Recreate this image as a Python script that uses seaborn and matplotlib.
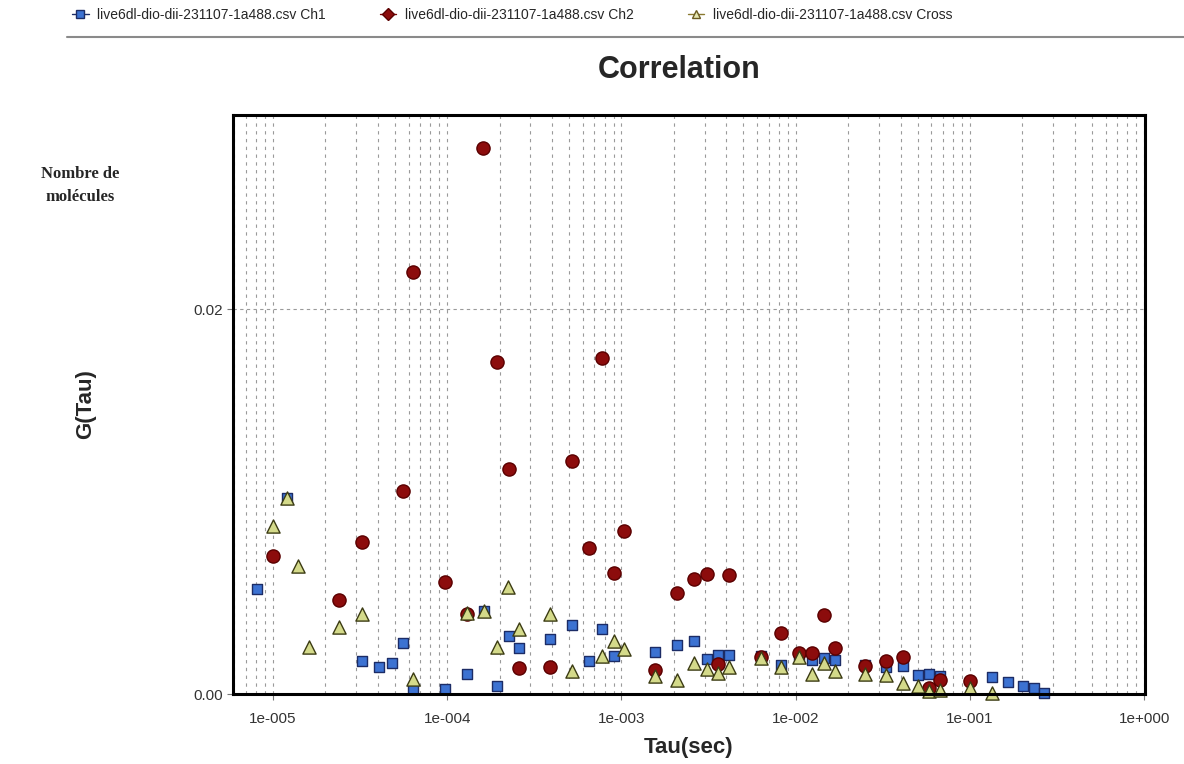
import numpy as np
import pandas as pd
import matplotlib
matplotlib.use("Agg")
import matplotlib.pyplot as plt
import seaborn as sns
from matplotlib.lines import Line2D
from matplotlib.ticker import FixedLocator, FuncFormatter, NullFormatter

# values
tau_ch1 = [8.1e-6, 1.2e-5, 3.23e-5, 4.05e-5, 4.79e-5, 5.59e-5, 6.38e-5, 9.7e-5, 1.3e-4, 1.62e-4,
           1.93e-4, 2.25e-4, 2.58e-4, 3.87e-4, 5.21e-4, 6.49e-4, 7.71e-4, 9.03e-4, 1.55e-3, 2.09e-3,
           2.62e-3, 3.09e-3, 3.6e-3, 4.14e-3, 6.29e-3, 8.2e-3, 1.04e-2, 1.24e-2, 1.45e-2, 1.68e-2,
           2.49e-2, 3.29e-2, 4.14e-2, 5.0e-2, 5.83e-2, 6.72e-2, 0.133, 0.165, 0.201, 0.234, 0.267]
g_ch1 = [0.00545, 0.0102, 0.00171, 0.00139, 0.00163, 0.00266, 0.00024, 0.00024, 0.00104, 0.00431,
         0.00043, 0.00303, 0.00239, 0.00286, 0.0036, 0.0017, 0.00336, 0.00199, 0.00217, 0.00256,
         0.00274, 0.0018, 0.00201, 0.00203, 0.00197, 0.00151, 0.00203, 0.00177, 0.00185, 0.00177,
         0.00151, 0.0014, 0.00145, 0.00099, 0.00104, 0.00094, 0.00087, 0.00064, 0.00042, 0.0003, 0.00004]

tau_ch2 = [1.0e-5, 2.4e-5, 3.23e-5, 5.59e-5, 6.38e-5, 9.7e-5, 1.3e-4, 1.61e-4, 1.94e-4, 2.25e-4,
           2.58e-4, 3.87e-4, 5.21e-4, 6.49e-4, 7.71e-4, 9.03e-4, 1.03e-3, 1.55e-3, 2.09e-3, 2.62e-3,
           3.09e-3, 3.6e-3, 4.14e-3, 6.29e-3, 8.2e-3, 1.04e-2, 1.24e-2, 1.45e-2, 1.68e-2, 2.49e-2,
           3.29e-2, 4.14e-2, 5.83e-2, 6.72e-2, 0.1004]
g_ch2 = [0.00717, 0.00488, 0.00791, 0.01053, 0.02192, 0.00583, 0.00416, 0.02836, 0.01725, 0.01172,
         0.00134, 0.00139, 0.01212, 0.0076, 0.01745, 0.0063, 0.00847, 0.00125, 0.00526, 0.00596,
         0.00623, 0.00154, 0.00617, 0.00194, 0.00315, 0.00215, 0.00211, 0.0041, 0.00241, 0.00145,
         0.00173, 0.00194, 0.0003, 0.00073, 0.00068]

tau_cross = [1.0e-5, 1.2e-5, 1.39e-5, 1.6e-5, 2.4e-5, 3.23e-5, 6.38e-5, 1.3e-4, 1.62e-4, 1.93e-4,
             2.24e-4, 2.58e-4, 3.87e-4, 5.21e-4, 7.71e-4, 9.03e-4, 1.03e-3, 1.55e-3, 2.09e-3, 2.62e-3,
             3.09e-3, 3.6e-3, 4.14e-3, 6.29e-3, 8.2e-3, 1.04e-2, 1.24e-2, 1.45e-2, 1.68e-2, 2.49e-2,
             3.29e-2, 4.14e-2, 5.0e-2, 5.83e-2, 6.72e-2, 0.1004, 0.133]
g_cross = [0.00873, 0.0102, 0.00665, 0.00243, 0.0035, 0.00414, 0.00076, 0.00419, 0.00431, 0.00246,
           0.00557, 0.00336, 0.00416, 0.00119, 0.00199, 0.00275, 0.00232, 0.00094, 0.00073, 0.00163,
           0.00128, 0.00111, 0.00142, 0.00185, 0.00139, 0.00191, 0.00104, 0.00163, 0.00121, 0.00102,
           0.00099, 0.00059, 0.00042, 0.00016, 0.00021, 0.0003, 0.00004]

labels = ["live6dl-dio-dii-231107-1a488.csv Ch1",
          "live6dl-dio-dii-231107-1a488.csv Ch2",
          "live6dl-dio-dii-231107-1a488.csv Cross"]
x_major = [1e-5, 1e-4, 1e-3, 1e-2, 1e-1, 1e0]
y_major = [0.0, 0.02]

sns.set_style("white")
plt.rcParams["font.family"] = ["Liberation Sans", "DejaVu Sans"]

fig = plt.figure(figsize=(11.84, 7.64), dpi=100)
ax = fig.add_axes([0.1968, 0.0916, 0.7703, 0.7579])

# series styles: (taus, values, marker, fill, edge, size)
series = [
    (tau_ch1, g_ch1, "s", "#3c72d2", "#1c2c66", 58),
    (tau_ch2, g_ch2, "o", "#8c0c0c", "#5a0000", 90),
    (tau_cross, g_cross, "^", "#d4da8a", "#3c3c14", 90),
]
for tau, g, mk, fc, ec, s in series:
    df = pd.DataFrame({"tau": tau, "g": g})
    sns.scatterplot(data=df, x="tau", y="g", marker=mk, color=fc, edgecolor=ec,
                    linewidth=1.0, s=s, ax=ax, clip_on=False, zorder=3)

ax.set_xscale("log")
ax.set_xlim(5.9e-6, 1.01)
ax.set_ylim(0, 0.0301)

ax.xaxis.set_major_locator(FixedLocator(x_major))
minor = [m * 10.0 ** e for e in range(-6, 0) for m in range(2, 10)]
ax.xaxis.set_minor_locator(FixedLocator(minor))
ax.xaxis.set_minor_formatter(NullFormatter())


def fmt_tau(v, pos):
    e = int(round(np.log10(v)))
    return f"1e{'-' if e < 0 else '+'}{abs(e):03d}"


ax.xaxis.set_major_formatter(FuncFormatter(fmt_tau))
ax.yaxis.set_major_locator(FixedLocator(y_major))
ax.yaxis.set_major_formatter(FuncFormatter(lambda v, p: f"{v:.2f}"))

ax.tick_params(axis="both", which="major", direction="out", length=4, width=0.8,
               color="#777777", labelsize=11, labelcolor="#333333")
ax.tick_params(axis="x", which="major", pad=9)
ax.tick_params(axis="y", which="major", pad=3)
ax.tick_params(axis="x", which="minor", direction="out", length=3, width=0.8, color="#999999")
ax.tick_params(left=True, bottom=True)

ax.grid(True, axis="x", which="both", color="#9a9a9a", linestyle=(0, (3, 4)), linewidth=0.8)
ax.grid(True, axis="y", which="major", color="#9a9a9a", linestyle=(0, (3, 3)), linewidth=0.8)
ax.set_axisbelow(True)

for side in ["left", "bottom", "top", "right"]:
    ax.spines[side].set_visible(True)
    ax.spines[side].set_color("black")
    ax.spines[side].set_linewidth(2.2)
    ax.spines[side].set_zorder(4)

ax.set_xlabel("Tau(sec)", fontsize=16, fontweight="bold")
ax.set_ylabel("G(Tau)", fontsize=16, fontweight="bold")
ax.xaxis.set_label_coords(0.5, -0.075)
ax.yaxis.set_label_coords(-0.15, 0.5)

fig.text(0.574, 0.908, "Correlation", ha="center", va="center", fontsize=22, fontweight="bold")
fig.text(0.0676, 0.757, "Nombre de\nmolécules", ha="center", va="center", fontsize=12,
         fontweight="bold", family="Liberation Serif", linespacing=1.55)

# legend strip at the top
handles = [
    Line2D([], [], color="#1c2c66", lw=1, marker="s", markersize=6,
           markerfacecolor="#3c72d2", markeredgecolor="#1c2c66"),
    Line2D([], [], color="#7a0000", lw=1, marker="D", markersize=6,
           markerfacecolor="#8c0c0c", markeredgecolor="#5a0000"),
    Line2D([], [], color="#8a7a30", lw=1, marker="^", markersize=6,
           markerfacecolor="#e4e6b0", markeredgecolor="#6a5a20"),
]
fig.legend(handles, labels, ncol=3, loc="center left", bbox_to_anchor=(72 / 1184, 1 - 15 / 764),
           frameon=False, fontsize=10, handlelength=1.2, handletextpad=0.6,
           columnspacing=3.9, borderpad=0, borderaxespad=0)
fig.add_artist(Line2D([67 / 1184, 1.0], [1 - 37 / 764, 1 - 37 / 764], transform=fig.transFigure,
                      color="#8a8a8a", lw=1.5))

fig.savefig("out.png", dpi=100)
